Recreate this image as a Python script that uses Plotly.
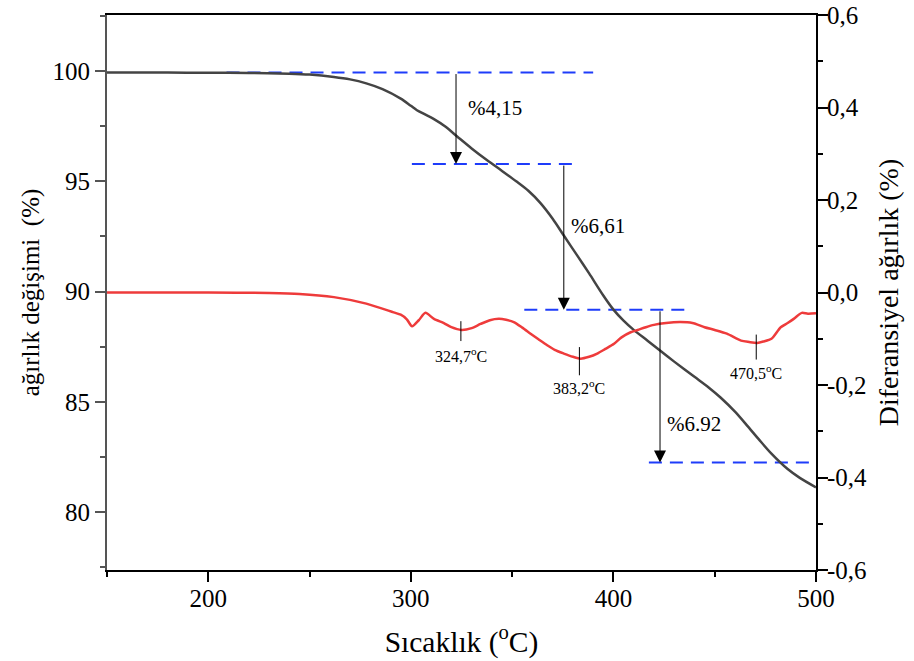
import plotly.graph_objects as go

# ---------------- data ----------------
# TG curve (weight change %, left axis)
tg_temp = [150, 180, 200, 220, 240, 250, 262, 270, 278, 286, 295, 300, 303, 307, 311,
           317, 323, 330, 338, 345, 352, 358, 364, 370, 376, 382, 388, 395, 400, 405,
           410, 417, 423, 430, 440, 447, 453, 460, 466, 472, 478, 486, 492, 500]
tg_weight = [99.93, 99.93, 99.92, 99.91, 99.88, 99.84, 99.73, 99.62, 99.44, 99.18, 98.75,
             98.42, 98.22, 98.03, 97.84, 97.48, 97.02, 96.49, 95.93, 95.47, 95.00, 94.57,
             94.01, 93.30, 92.47, 91.65, 90.82, 89.82, 89.18, 88.68, 88.26, 87.76, 87.32,
             86.82, 86.13, 85.65, 85.18, 84.55, 83.92, 83.27, 82.65, 81.95, 81.55, 81.12]

# DTG curve (differential weight %, right axis)
dtg_temp = [150, 200, 230, 245, 262, 278, 291.5, 295, 298, 300.6, 303.9, 307.2, 311.4,
            316.3, 320, 325, 330, 334.4, 339, 343.4, 347, 350.8, 355, 359.1, 363, 367.3,
            371, 375.5, 380, 383.8, 388, 392, 396, 400.3, 404, 408.5, 412, 416, 420, 426,
            433, 439, 445, 450, 456, 463, 467, 471, 474, 478, 482.6, 486, 489, 493, 496, 500]
dtg_value = [0.0, 0.0, -0.001, -0.003, -0.010, -0.024, -0.043, -0.048, -0.058, -0.073,
             -0.060, -0.044, -0.057, -0.066, -0.075, -0.081, -0.077, -0.068, -0.060, -0.057,
             -0.059, -0.064, -0.076, -0.089, -0.101, -0.114, -0.124, -0.132, -0.139, -0.143,
             -0.139, -0.132, -0.122, -0.111, -0.097, -0.086, -0.081, -0.075, -0.070, -0.066,
             -0.064, -0.066, -0.075, -0.081, -0.089, -0.104, -0.107, -0.109, -0.106, -0.100,
             -0.075, -0.066, -0.057, -0.044, -0.046, -0.045]

# mass-loss steps: dashed reference levels and their x-extents
level_values = [99.93, 95.78, 89.17, 82.25]
level_x_start = [209, 300.5, 356, 417.5]
level_x_end = [390, 382, 438.5, 500]
step_labels = ["%4,15", "%6,61", "%6.92"]
step_arrow_x = [322.3, 375.5, 423]
step_label_x = [327, 378, 425.3]
step_label_y = [98.3, 92.96, 83.97]

# DTG peak markers
peak_temp = [324.7, 383.2, 470.5]
peak_labels = ["324,7<sup>o</sup>C", "383,2<sup>o</sup>C", "470,5<sup>o</sup>C"]
peak_mark_top = [-0.062, -0.118, -0.091]
peak_mark_bottom = [-0.105, -0.179, -0.145]
peak_label_y = [-0.136, -0.204, -0.171]

x_ticks = [200, 300, 400, 500]
x_minor = [150, 250, 350, 450]
y_ticks = [80, 85, 90, 95, 100]
y_minor = [77.5, 82.5, 87.5, 92.5, 97.5, 102.5]
y2_ticks = [-0.6, -0.4, -0.2, 0.0, 0.2, 0.4, 0.6]
y2_ticktext = ["-0,6", "-0,4", "-0,2", "0,0", "0,2", "0,4", "0,6"]
y2_minor = [-0.5, -0.3, -0.1, 0.1, 0.3, 0.5]

FONT = "Liberation Serif, Times New Roman, serif"
BLUE = "rgb(30,60,250)"

fig = go.Figure()

# dashed level lines
for xs, xe, lv in zip(level_x_start, level_x_end, level_values):
    fig.add_trace(go.Scatter(x=[xs, xe], y=[lv, lv], mode="lines",
                             line=dict(color=BLUE, width=2, dash="13px,8px"),
                             hoverinfo="skip"))

fig.add_trace(go.Scatter(x=tg_temp, y=tg_weight, mode="lines",
                         line=dict(color="#444444", width=2.5, shape="spline",
                                   smoothing=0.8),
                         name="TG"))
fig.add_trace(go.Scatter(x=dtg_temp, y=dtg_value, mode="lines", yaxis="y2",
                         line=dict(color="#ee3b3b", width=2.5, shape="spline",
                                   smoothing=0.7),
                         name="DTG"))

# peak marker lines
for t, a, b in zip(peak_temp, peak_mark_top, peak_mark_bottom):
    fig.add_trace(go.Scatter(x=[t, t], y=[a, b], mode="lines", yaxis="y2",
                             line=dict(color="black", width=1), hoverinfo="skip"))

annotations = []
# arrows between levels
for i, ax_x in enumerate(step_arrow_x):
    annotations.append(dict(x=ax_x, y=level_values[i + 1], ax=ax_x, ay=level_values[i],
                            xref="x", yref="y", axref="x", ayref="y",
                            showarrow=True, arrowhead=2, arrowsize=2.4, arrowwidth=1,
                            arrowcolor="black", text=""))
for lbl, lx, ly in zip(step_labels, step_label_x, step_label_y):
    annotations.append(dict(x=lx, y=ly, xref="x", yref="y", text=lbl, showarrow=False,
                            xanchor="left", yanchor="middle",
                            font=dict(family=FONT, size=21, color="black")))
for lbl, t, ly in zip(peak_labels, peak_temp, peak_label_y):
    annotations.append(dict(x=t, y=ly, xref="x", yref="y2", text=lbl, showarrow=False,
                            xanchor="center", yanchor="middle",
                            font=dict(family=FONT, size=16, color="black")))

fig.update_layout(
    width=914, height=661,
    margin=dict(l=107, r=98, t=15, b=91),
    plot_bgcolor="white", paper_bgcolor="white",
    showlegend=False,
    font=dict(family=FONT, color="black"),
    annotations=annotations,
    xaxis=dict(range=[150, 500], tickmode="array", tickvals=x_ticks, automargin=False,
               ticks="outside", ticklen=10, tickwidth=2, tickcolor="black",
               showline=True, linecolor="black", linewidth=2, mirror=True,
               showgrid=False, zeroline=False, ticklabelstandoff=-5,
               minor=dict(tickmode="array", tickvals=x_minor, ticks="outside",
                          ticklen=5, tickwidth=2, tickcolor="black"),
               tickfont=dict(family=FONT, size=25, color="black"),
               title=dict(text="Sıcaklık (<sup>o</sup>C)", standoff=20,
                          font=dict(family=FONT, size=29.5, color="black"))),
    yaxis=dict(range=[77.37, 102.54], tickmode="array", tickvals=y_ticks, automargin=False,
               ticks="outside", ticklen=10, tickwidth=2, tickcolor="#555555",
               showline=True, linecolor="#555555", linewidth=2,
               showgrid=False, zeroline=False,
               minor=dict(tickmode="array", tickvals=y_minor, ticks="outside",
                          ticklen=5, tickwidth=2, tickcolor="#555555"),
               tickfont=dict(family=FONT, size=25, color="black"),
               title=dict(text="ağırlık değişimi\u00a0 (%)", standoff=6,
                          font=dict(family=FONT, size=25, color="black"))),
    yaxis2=dict(range=[-0.6, 0.6], overlaying="y", side="right", automargin=False,
                tickmode="array", tickvals=y2_ticks, ticktext=y2_ticktext,
                ticks="outside", ticklen=10, tickwidth=2, tickcolor="black",
                showline=True, linecolor="black", linewidth=2,
                showgrid=False, zeroline=False, ticklabeloverflow="allow",
                ticklabelstandoff=-6,
                minor=dict(tickmode="array", tickvals=y2_minor, ticks="outside",
                           ticklen=5, tickwidth=2, tickcolor="black"),
                tickfont=dict(family=FONT, size=25, color="black"),
                title=dict(text="Diferansiyel ağırlık (%)", standoff=12,
                           font=dict(family=FONT, size=28, color="black"))),
)

# remove the default page margin so the figure fills the window exactly
fig.write_html("out.html", config={"displayModeBar": False},
               post_script="document.body.style.margin='0';document.body.style.overflow='hidden';")
